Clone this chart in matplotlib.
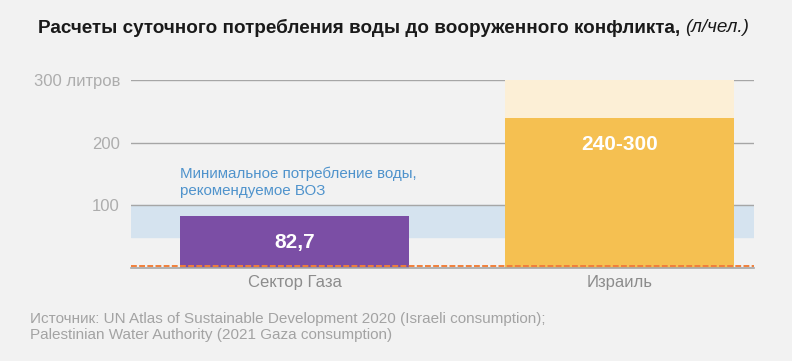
import matplotlib.pyplot as plt

plt.rcParams['font.family'] = ['Liberation Sans', 'DejaVu Sans']

# data
categories = ['Сектор Газа', 'Израиль']
low_values = [82.7, 240]
high_values = [82.7, 300]
bar_labels = ['82,7', '240-300']
who_min = [50, 100]
yticks = [100, 200, 300]
ytick_labels = ['100', '200', '300 литров']

bg = '#f2f2f2'
fig = plt.figure(figsize=(7.92, 3.61), dpi=100, facecolor=bg)
ax = fig.add_axes([131 / 792, 93 / 361, 623 / 792, 188 / 361], facecolor=bg)

ax.set_ylim(0, 300)
ax.set_xlim(-0.503, 1.414)

# WHO band
ax.axhspan(who_min[0], who_min[1], color='#d5e3ef', zorder=0)
for t in yticks:
    ax.axhline(t, color='#a6a6a6', lw=1, zorder=1)

x = range(len(categories))
ax.bar(x, high_values, width=0.705, color=['#7b4ea5', '#fcefd6'], zorder=2)
ax.bar(x, low_values, width=0.705, color=['#7b4ea5', '#f5c051'], zorder=3)

ax.axhline(0, color='#a6a6a6', lw=1.2, zorder=4, clip_on=False)
ax.axhline(2.5, color='#f07f3a', lw=1.4, ls=(0, (3, 1.2)), zorder=5)

ax.text(0, 41, bar_labels[0], ha='center', va='center', color='white',
        fontsize=15, fontweight='bold', zorder=6)
ax.text(1, 197, bar_labels[1], ha='center', va='center', color='white',
        fontsize=15, fontweight='bold', zorder=6)

ax.text(-0.352, 112, 'Минимальное потребление воды,\nрекомендуемое ВОЗ',
        color='#4f93cc', fontsize=10.9, ha='left', va='bottom', linespacing=1.28)

ax.set_yticks(yticks)
ax.set_yticklabels(ytick_labels, color='#adadad', fontsize=12)
ax.set_xticks(list(x))
ax.set_xticklabels(categories, color='#8c8c8c', fontsize=12)
ax.tick_params(length=0)
ax.tick_params(axis='y', pad=8)
ax.tick_params(axis='x', pad=5)
for s in ax.spines.values():
    s.set_visible(False)

t1 = fig.text(38 / 792, 1 - 28 / 361, 'Расчеты суточного потребления воды до вооруженного конфликта, ',
              fontweight='bold', fontsize=13.6,
              color='#1a1a1a', va='center', ha='left')
fig.canvas.draw()
bb = t1.get_window_extent()
fig.text(bb.x1 / 792, 1 - 28 / 361, '(л/чел.)',
         fontstyle='italic', fontsize=13.6, color='#1a1a1a', va='center', ha='left')

fig.text(30 / 792, 1 - 327 / 361,
         'Источник: UN Atlas of Sustainable Development 2020 (Israeli consumption);\n'
         'Palestinian Water Authority (2021 Gaza consumption)',
         color='#a3a3a3', fontsize=11, va='center', ha='left', linespacing=1.2)

fig.savefig('out.png', dpi=100, facecolor=bg)
